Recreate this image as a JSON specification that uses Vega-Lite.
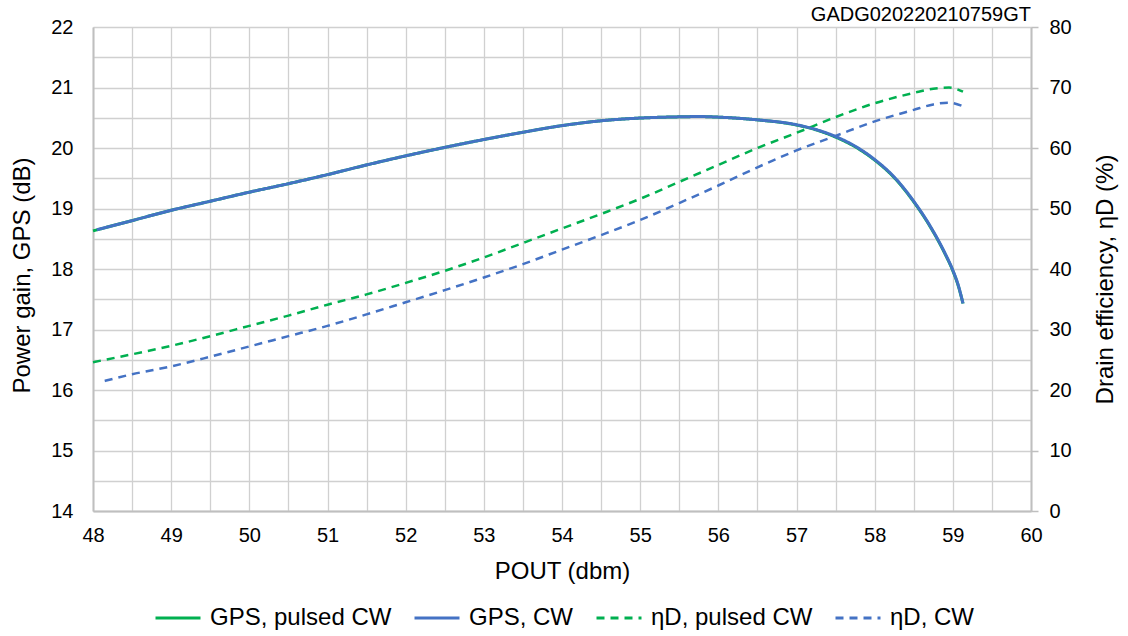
{
  "$schema": "https://vega.github.io/schema/vega-lite/v6.json",
  "width": 938,
  "height": 484,
  "autosize": {"type": "none"},
  "padding": {"left": 93, "top": 27, "right": 97, "bottom": 125},
  "background": "white",
  "config": {
    "font": "Liberation Sans",
    "view": {"stroke": null},
    "axis": {"labelFont": "Liberation Sans", "titleFont": "Liberation Sans", "labelColor": "#000000", "titleColor": "#000000", "labelFontSize": 20, "titleFontSize": 24, "titleFontWeight": "normal", "domainColor": "#bfbfbf", "domainWidth": 2, "gridColor": "#d0d0d0", "gridWidth": 1.3}
  },
  "title": {"text": "GADG020220210759GT", "anchor": "end", "frame": "group", "orient": "top", "fontSize": 20, "fontWeight": "normal", "font": "Liberation Sans", "color": "#000000", "offset": 4, "dy": 12},
  "data": {"values": [
    {"P": 48.0, "series": "GPS, pulsed CW", "v": 18.63},
    {"P": 48.5, "series": "GPS, pulsed CW", "v": 18.80},
    {"P": 49.0, "series": "GPS, pulsed CW", "v": 18.97},
    {"P": 49.5, "series": "GPS, pulsed CW", "v": 19.12},
    {"P": 50.0, "series": "GPS, pulsed CW", "v": 19.27},
    {"P": 50.5, "series": "GPS, pulsed CW", "v": 19.41},
    {"P": 51.0, "series": "GPS, pulsed CW", "v": 19.56},
    {"P": 51.5, "series": "GPS, pulsed CW", "v": 19.72},
    {"P": 52.0, "series": "GPS, pulsed CW", "v": 19.87},
    {"P": 52.5, "series": "GPS, pulsed CW", "v": 20.01},
    {"P": 53.0, "series": "GPS, pulsed CW", "v": 20.14},
    {"P": 53.5, "series": "GPS, pulsed CW", "v": 20.26},
    {"P": 54.0, "series": "GPS, pulsed CW", "v": 20.37},
    {"P": 54.5, "series": "GPS, pulsed CW", "v": 20.45},
    {"P": 55.0, "series": "GPS, pulsed CW", "v": 20.495},
    {"P": 55.5, "series": "GPS, pulsed CW", "v": 20.515},
    {"P": 55.75, "series": "GPS, pulsed CW", "v": 20.52},
    {"P": 56.0, "series": "GPS, pulsed CW", "v": 20.51},
    {"P": 56.5, "series": "GPS, pulsed CW", "v": 20.465},
    {"P": 57.0, "series": "GPS, pulsed CW", "v": 20.38},
    {"P": 57.25, "series": "GPS, pulsed CW", "v": 20.30},
    {"P": 57.5, "series": "GPS, pulsed CW", "v": 20.18},
    {"P": 57.75, "series": "GPS, pulsed CW", "v": 20.02},
    {"P": 58.0, "series": "GPS, pulsed CW", "v": 19.80},
    {"P": 58.25, "series": "GPS, pulsed CW", "v": 19.51},
    {"P": 58.5, "series": "GPS, pulsed CW", "v": 19.11},
    {"P": 58.71, "series": "GPS, pulsed CW", "v": 18.70},
    {"P": 58.9, "series": "GPS, pulsed CW", "v": 18.25},
    {"P": 59.0, "series": "GPS, pulsed CW", "v": 17.97},
    {"P": 59.07, "series": "GPS, pulsed CW", "v": 17.72},
    {"P": 59.13, "series": "GPS, pulsed CW", "v": 17.43},
    {"P": 48.05, "series": "GPS, CW", "v": 18.65},
    {"P": 48.5, "series": "GPS, CW", "v": 18.80},
    {"P": 49.0, "series": "GPS, CW", "v": 18.97},
    {"P": 49.5, "series": "GPS, CW", "v": 19.12},
    {"P": 50.0, "series": "GPS, CW", "v": 19.27},
    {"P": 50.5, "series": "GPS, CW", "v": 19.41},
    {"P": 51.0, "series": "GPS, CW", "v": 19.56},
    {"P": 51.5, "series": "GPS, CW", "v": 19.72},
    {"P": 52.0, "series": "GPS, CW", "v": 19.87},
    {"P": 52.5, "series": "GPS, CW", "v": 20.01},
    {"P": 53.0, "series": "GPS, CW", "v": 20.14},
    {"P": 53.5, "series": "GPS, CW", "v": 20.26},
    {"P": 54.0, "series": "GPS, CW", "v": 20.37},
    {"P": 54.5, "series": "GPS, CW", "v": 20.45},
    {"P": 55.0, "series": "GPS, CW", "v": 20.495},
    {"P": 55.5, "series": "GPS, CW", "v": 20.515},
    {"P": 55.75, "series": "GPS, CW", "v": 20.52},
    {"P": 56.0, "series": "GPS, CW", "v": 20.51},
    {"P": 56.5, "series": "GPS, CW", "v": 20.465},
    {"P": 57.0, "series": "GPS, CW", "v": 20.385},
    {"P": 57.25, "series": "GPS, CW", "v": 20.305},
    {"P": 57.5, "series": "GPS, CW", "v": 20.19},
    {"P": 57.75, "series": "GPS, CW", "v": 20.03},
    {"P": 58.0, "series": "GPS, CW", "v": 19.81},
    {"P": 58.25, "series": "GPS, CW", "v": 19.52},
    {"P": 58.5, "series": "GPS, CW", "v": 19.12},
    {"P": 58.71, "series": "GPS, CW", "v": 18.71},
    {"P": 58.9, "series": "GPS, CW", "v": 18.26},
    {"P": 59.0, "series": "GPS, CW", "v": 17.98},
    {"P": 59.07, "series": "GPS, CW", "v": 17.73},
    {"P": 59.13, "series": "GPS, CW", "v": 17.43},
    {"P": 48.0, "series": "ηD, pulsed CW", "v": 24.6},
    {"P": 48.5, "series": "ηD, pulsed CW", "v": 25.9},
    {"P": 49.0, "series": "ηD, pulsed CW", "v": 27.3},
    {"P": 49.5, "series": "ηD, pulsed CW", "v": 28.9},
    {"P": 50.0, "series": "ηD, pulsed CW", "v": 30.6},
    {"P": 50.5, "series": "ηD, pulsed CW", "v": 32.3},
    {"P": 51.0, "series": "ηD, pulsed CW", "v": 34.1},
    {"P": 51.5, "series": "ηD, pulsed CW", "v": 35.8},
    {"P": 52.0, "series": "ηD, pulsed CW", "v": 37.7},
    {"P": 52.5, "series": "ηD, pulsed CW", "v": 39.7},
    {"P": 53.0, "series": "ηD, pulsed CW", "v": 41.9},
    {"P": 53.5, "series": "ηD, pulsed CW", "v": 44.3},
    {"P": 54.0, "series": "ηD, pulsed CW", "v": 46.7},
    {"P": 54.5, "series": "ηD, pulsed CW", "v": 49.1},
    {"P": 55.0, "series": "ηD, pulsed CW", "v": 51.6},
    {"P": 55.5, "series": "ηD, pulsed CW", "v": 54.4},
    {"P": 56.0, "series": "ηD, pulsed CW", "v": 57.2},
    {"P": 56.5, "series": "ηD, pulsed CW", "v": 60.0},
    {"P": 57.0, "series": "ηD, pulsed CW", "v": 62.5},
    {"P": 57.5, "series": "ηD, pulsed CW", "v": 65.1},
    {"P": 58.0, "series": "ηD, pulsed CW", "v": 67.4},
    {"P": 58.5, "series": "ηD, pulsed CW", "v": 69.1},
    {"P": 58.75, "series": "ηD, pulsed CW", "v": 69.8},
    {"P": 58.95, "series": "ηD, pulsed CW", "v": 70.0},
    {"P": 59.13, "series": "ηD, pulsed CW", "v": 69.3},
    {"P": 48.15, "series": "ηD, CW", "v": 21.5},
    {"P": 48.5, "series": "ηD, CW", "v": 22.6},
    {"P": 49.0, "series": "ηD, CW", "v": 23.9},
    {"P": 49.5, "series": "ηD, CW", "v": 25.5},
    {"P": 50.0, "series": "ηD, CW", "v": 27.2},
    {"P": 50.5, "series": "ηD, CW", "v": 28.9},
    {"P": 51.0, "series": "ηD, CW", "v": 30.6},
    {"P": 51.5, "series": "ηD, CW", "v": 32.5},
    {"P": 52.0, "series": "ηD, CW", "v": 34.5},
    {"P": 52.5, "series": "ηD, CW", "v": 36.5},
    {"P": 53.0, "series": "ηD, CW", "v": 38.6},
    {"P": 53.5, "series": "ηD, CW", "v": 40.8},
    {"P": 54.0, "series": "ηD, CW", "v": 43.2},
    {"P": 54.5, "series": "ηD, CW", "v": 45.6},
    {"P": 55.0, "series": "ηD, CW", "v": 48.1},
    {"P": 55.5, "series": "ηD, CW", "v": 50.9},
    {"P": 56.0, "series": "ηD, CW", "v": 53.8},
    {"P": 56.5, "series": "ηD, CW", "v": 56.8},
    {"P": 57.0, "series": "ηD, CW", "v": 59.6},
    {"P": 57.5, "series": "ηD, CW", "v": 62.0},
    {"P": 58.0, "series": "ηD, CW", "v": 64.4},
    {"P": 58.5, "series": "ηD, CW", "v": 66.3},
    {"P": 58.75, "series": "ηD, CW", "v": 67.2},
    {"P": 58.95, "series": "ηD, CW", "v": 67.5},
    {"P": 59.13, "series": "ηD, CW", "v": 66.9}
  ]},
  "encoding": {
    "x": {"field": "P", "type": "quantitative",
      "scale": {"domain": [48, 60], "nice": false, "zero": false},
      "axis": {"title": "POUT (dbm)", "values": [48,48.5,49,49.5,50,50.5,51,51.5,52,52.5,53,53.5,54,54.5,55,55.5,56,56.5,57,57.5,58,58.5,59,59.5,60],
        "labelExpr": "datum.value % 1 === 0 ? format(datum.value, 'd') : ''", "ticks": false, "tickSize": 0, "labelPadding": 14, "labelFlush": false,
        "titleX": 469, "titleY": 60, "titleBaseline": "middle", "grid": true}},
    "color": {"field": "series", "type": "nominal",
      "scale": {"domain": ["GPS, pulsed CW", "GPS, CW", "ηD, pulsed CW", "ηD, CW"], "range": ["#00b050", "#4472c4", "#00b050", "#4472c4"]},
      "legend": {"title": null, "orient": "none", "legendX": 61, "legendY": 567, "direction": "horizontal", "columns": 4,
        "symbolType": "stroke", "symbolSize": 2025, "symbolStrokeWidth": 3, "labelFontSize": 24, "labelFont": "Liberation Sans", "labelColor": "#000000",
        "labelOffset": 8, "columnPadding": 16, "labelLimit": 300}},
    "strokeDash": {"field": "series", "type": "nominal",
      "scale": {"domain": ["GPS, pulsed CW", "GPS, CW", "ηD, pulsed CW", "ηD, CW"], "range": [[1, 0], [1, 0], [8, 6], [8, 6]]},
      "legend": {"title": null}}
  },
  "layer": [
    {
      "transform": [{"filter": {"field": "series", "oneOf": ["ηD, pulsed CW", "ηD, CW"]}}],
      "mark": {"type": "line", "strokeWidth": 2.5, "interpolate": "monotone"},
      "encoding": {
        "y": {"field": "v", "type": "quantitative",
          "scale": {"domain": [0, 80], "nice": false},
          "axis": {"orient": "right", "title": "Drain efficiency, ηD (%)", "values": [0,10,20,30,40,50,60,70,80], "grid": false,
            "ticks": true, "tickSize": 7, "tickColor": "#bfbfbf", "tickWidth": 1.5, "labelPadding": 11, "labelFlush": false,
            "titleAngle": 270, "titleX": 74, "titleY": 252, "titleBaseline": "middle"}}
      }
    },
    {
      "transform": [{"filter": {"field": "series", "oneOf": ["GPS, pulsed CW", "GPS, CW"]}}],
      "mark": {"type": "line", "strokeWidth": 3, "interpolate": "monotone"},
      "encoding": {
        "y": {"field": "v", "type": "quantitative",
          "scale": {"domain": [14, 22], "nice": false, "zero": false},
          "axis": {"orient": "left", "title": "Power gain, GPS (dB)", "values": [14,14.5,15,15.5,16,16.5,17,17.5,18,18.5,19,19.5,20,20.5,21,21.5,22],
            "labelExpr": "datum.value % 1 === 0 ? format(datum.value, 'd') : ''", "ticks": false, "tickSize": 0, "labelPadding": 20, "labelFlush": false,
            "titleAngle": 270, "titleX": -71, "titleY": 248, "titleBaseline": "middle", "grid": true}}
      }
    }
  ],
  "resolve": {"scale": {"y": "independent"}, "axis": {"y": "independent"}}
}
